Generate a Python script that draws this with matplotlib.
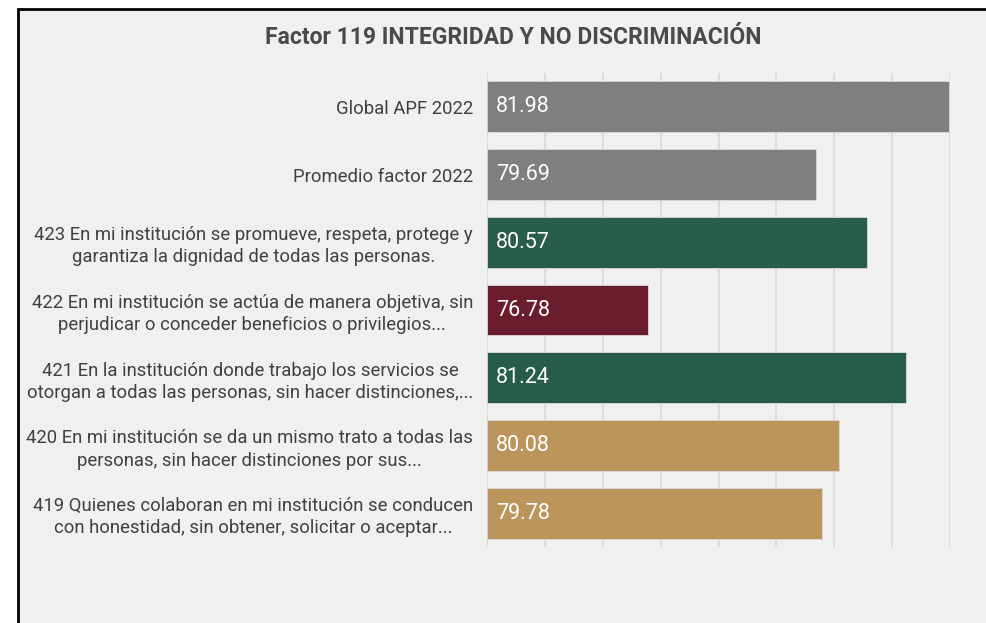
import matplotlib
matplotlib.use("Agg")
import matplotlib.pyplot as plt
from matplotlib.patches import Rectangle

# data, top to bottom
labels = [
    "Global APF 2022",
    "Promedio factor 2022",
    "423 En mi institución se promueve, respeta, protege y\ngarantiza la dignidad de todas las personas.",
    "422 En mi institución se actúa de manera objetiva, sin\nperjudicar o conceder beneficios o privilegios...",
    "421 En la institución donde trabajo los servicios se\notorgan a todas las personas, sin hacer distinciones,...",
    "420 En mi institución se da un mismo trato a todas las\npersonas, sin hacer distinciones por sus...",
    "419 Quienes colaboran en mi institución se conducen\ncon honestidad, sin obtener, solicitar o aceptar...",
]
values = [81.98, 79.69, 80.57, 76.78, 81.24, 80.08, 79.78]
colors = ["#7f7f7f", "#7f7f7f", "#285c4d", "#6b1d30", "#285c4d", "#bc955c", "#bc955c"]
title = "Factor 119 INTEGRIDAD Y NO DISCRIMINACIÓN"

plt.rcParams["font.family"] = ["Roboto", "DejaVu Sans"]

fig = plt.figure(figsize=(9.86, 6.23), dpi=100)
fig.patch.set_facecolor("white")
# grey panel with black frame on top and left
fig.patches.append(Rectangle((17.5 / 986, -0.05), 1.2, 1.05 - 9 / 623,
                             transform=fig.transFigure, facecolor="#f0f0f0",
                             edgecolor="black", linewidth=2, zorder=-10))

ax = fig.add_axes([487 / 986, 1 - 547 / 623, (950 - 487) / 986, (547 - 73) / 623])
ax.set_facecolor("none")

y = list(range(len(values)))
ax.barh(y, [v - 74 for v in values], left=74, height=0.75, color=colors,
        edgecolor="#d8d8d8", linewidth=0.6, zorder=3)
for yi, v in zip(y, values):
    ax.text(74.15, yi, f"{v:.2f}", color="white", fontsize=15.5,
            va="center", ha="left", zorder=4)

ax.set_xlim(74, 82)
ax.set_ylim(6.5, -0.5)
ax.set_xticks(range(74, 83))
ax.set_xticklabels([])
ax.grid(axis="x", color="#dcdcdc", linewidth=1.5, zorder=0)
ax.set_yticks(y)
ax.set_yticklabels(labels, fontsize=13.3, color="#404040", multialignment="center",
                   linespacing=1.3)
ax.tick_params(length=0, pad=10)
for s in ax.spines.values():
    s.set_visible(False)

fig.text(513 / 986, 1 - 38 / 623, title, ha="center", va="center",
         fontsize=16.5, fontweight="bold", color="#4a4a4a")

fig.savefig("out.png", dpi=100, facecolor=fig.get_facecolor())
